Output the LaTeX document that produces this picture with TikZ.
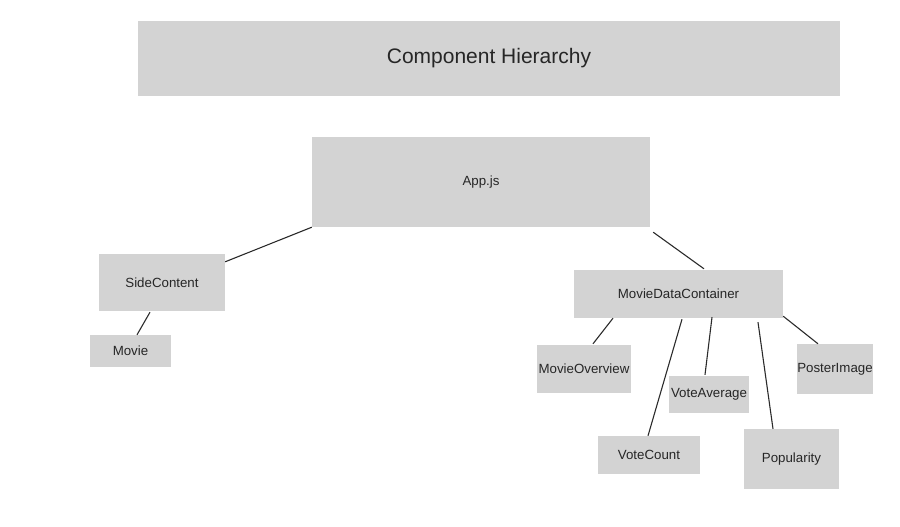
\documentclass[tikz,border=0pt]{standalone}
\usepackage{fontspec}
\setmainfont{Liberation Sans}
\usetikzlibrary{positioning}
\definecolor{Line}{HTML}{2B2B2B}
\definecolor{Panel}{HTML}{D3D3D3}
\definecolor{Ink}{HTML}{262626}

\begin{document}
\begin{tikzpicture}[
 x=1pt,y=-1pt,
 b/.style={fill=Panel,inner sep=0pt,text=Ink,font=\fontsize{13.3}{15}\selectfont},
 a/.style={draw=Line,line width=1.1pt}
]
\useasboundingbox (0,0) rectangle (900,527);
\node[b,minimum width=702pt,minimum height=75pt,font=\fontsize{21}{24}\selectfont] (title) at (489,58.5) {Component Hierarchy};
\node[b,minimum width=338pt,minimum height=90pt] (app) at (481,182) {App.js};
\node[b,minimum width=126pt,minimum height=57pt] (side) at (162,282.5) {SideContent};
\node[b,minimum width=81pt,minimum height=32pt] (movie) at (130.5,351) {Movie};
\node[b,minimum width=209pt,minimum height=48pt] (mdc) at (678.5,294) {MovieDataContainer};
\node[b,minimum width=94pt,minimum height=48pt] (overview) at (584,369) {MovieOverview};
\node[b,minimum width=80pt,minimum height=37pt] (average) at (709,394.5) {VoteAverage};
\node[b,minimum width=102pt,minimum height=38pt] (count) at (649,455) {VoteCount};
\node[b,minimum width=95pt,minimum height=60pt] (popularity) at (791.5,459) {Popularity};
\node[b,minimum width=74pt,minimum height=50pt] (poster) at (835,369) {PosterImage};
% left branch
\draw[a] (app.south west)--([yshift=-8pt]side.north east);
\draw[a] ([xshift=-12pt,yshift=-1pt]side.south)--([xshift=6.5pt]movie.north);
% right branch
\draw[a] ([xshift=3pt,yshift=-5pt]app.south east)--([xshift=25.5pt,yshift=1pt]mdc.north);
\draw[a] ([xshift=-65.5pt]mdc.south)--([xshift=9pt,yshift=1pt]overview.north);
\draw[a] ([xshift=3.5pt,yshift=-1pt]mdc.south)--([xshift=-1pt]count.north);
\draw[a] ([xshift=33.5pt,yshift=1pt]mdc.south)--([xshift=-4pt,yshift=1pt]average.north);
\draw[a] ([xshift=79.5pt,yshift=-4pt]mdc.south)--([xshift=-18.5pt]popularity.north);
\draw[a] ([yshift=2pt]mdc.south east)--([xshift=-17pt]poster.north);
\end{tikzpicture}
\end{document}
